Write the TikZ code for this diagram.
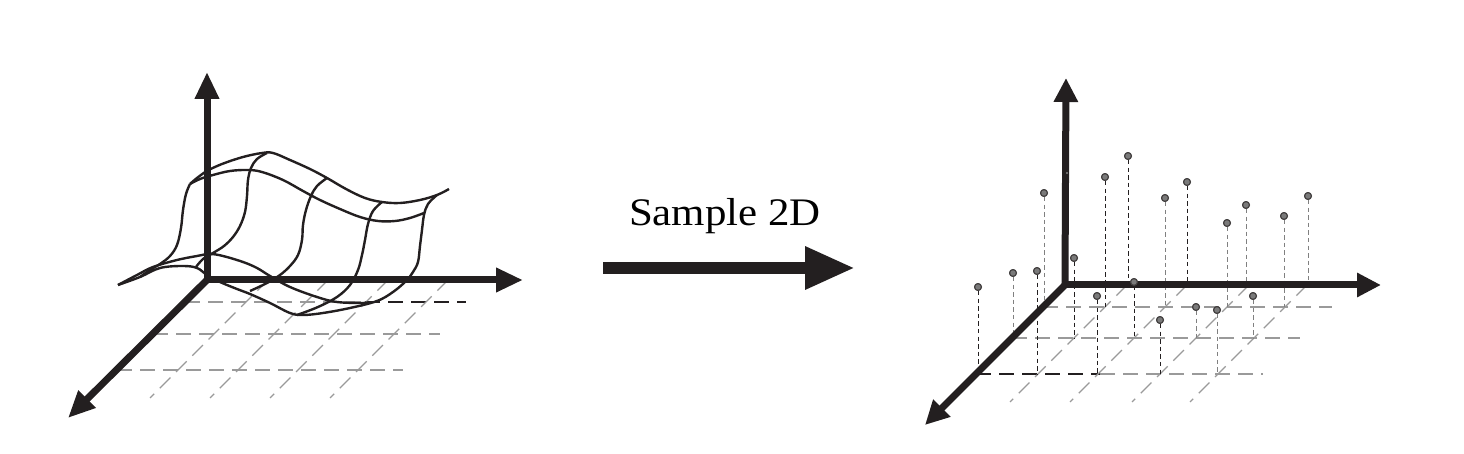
\documentclass[tikz,border=0pt]{standalone}
\usepackage{fontspec}
\setmainfont{Liberation Serif}
\usetikzlibrary{arrows.meta}
\definecolor{ink}{HTML}{231F20}
\definecolor{gridgray}{HTML}{9A9A9A}
\definecolor{dotgray}{HTML}{7A7A7A}
\begin{document}
\begin{tikzpicture}[x=0.5pt,y=-0.5pt,
  axisL/.style={ink, line width=3.5pt, line cap=round, -{Triangle[length=13.5pt,width=11.5pt]}},
  axisR/.style={ink, line width=3.5pt, line cap=round, -{Triangle[length=12pt,width=11.5pt]}},
  gridline/.style={gridgray, line width=0.7pt, dash pattern=on 7.5pt off 4pt},
  darkgrid/.style={gridline, draw=ink},
  surf/.style={ink, line width=1.2pt, line join=round},
  drop/.style={ink, line width=0.5pt, dash pattern=on 2.2pt off 1.6pt},
  dropgray/.style={drop, draw=gray},
  sample/.style={circle, draw=ink!85, fill=dotgray, line width=0.55pt, inner sep=0pt, minimum size=3.4pt},
  bigarrow/.style={ink, line width=6pt, -{Triangle[length=25pt,width=20pt]}}
]
\useasboundingbox (0,0) rectangle (1464,454);

% ---------------- left panel ----------------
\coordinate (LO) at (207,280);
\coordinate (LZ) at (207,72);
\coordinate (LX) at (523,280);
\coordinate (LY) at (68,418);

% ground grid
\draw[gridline] (185,302) -- (365,302);
\draw[darkgrid] (365,302) -- (466,302);
\draw[gridline] (153,334) -- (440,334);
\draw[gridline] (117,370) -- (403,370);
\foreach \u in {61,121,181,241}
  \draw[gridline] ({207+\u},280) -- ({207+\u-118},398);

% surface
\draw[surf] plot[smooth, tension=0.6] coordinates {(190,184) (197,178) (207,171) (222,164) (243,157) (262,153) (273,153) (290,160) (310,169) (327,178) (346,189) (365,198) (382,202) (400,203) (420,200) (437,195) (449,189)};
\draw[surf] plot[smooth, tension=0.6] coordinates {(190,184) (200,179) (213,175) (230,171) (248,170) (262,172) (283,180) (303,191) (320,200) (340,209) (360,217) (378,221) (395,221) (410,218) (424,213)};
\draw[surf] plot[smooth, tension=0.6] coordinates {(190,184) (186,194) (183,210) (181,228) (177,245) (170,256) (160,264) (150,270) (140,277)};
\draw[surf] plot[smooth, tension=0.6] coordinates {(267,153) (257,159) (251,168) (248,180) (247,196) (245,212) (240,226) (233,237) (224,246) (213,253) (203,259) (196,267)};
\draw[surf] plot[smooth, tension=0.6] coordinates {(327,178) (317,186) (311,196) (306,210) (303,225) (302,240) (298,255) (290,266) (280,275) (267,283) (250,291)};
\draw[surf] plot[smooth, tension=0.6] coordinates {(382,202) (373,211) (368,224) (365,240) (362,255) (358,270) (350,285) (337,297) (318,307) (297,315)};
\draw[surf] plot[smooth, tension=0.6] coordinates {(437,195) (428,204) (424,215) (422,230) (420,246) (418,262) (413,272) (406,281) (393,292) (377,301) (350,308) (323,313) (303,315) (290,313) (270,303) (250,294) (237,289) (220,282) (207,275) (197,268) (183,266) (160,268) (140,277) (118,285)};
\draw[surf] plot[smooth, tension=0.6] coordinates {(118,285) (137,275) (153,267) (177,260) (197,256) (210,254) (223,256) (243,262) (257,268) (270,276) (290,287) (317,297) (337,302) (363,303) (368,302)};

% axes
\draw[axisL] (LO) -- (LZ);
\draw[axisL] (LO) -- (LX);
\draw[axisL] (LO) -- (LY);

% ---------------- middle ----------------
\node[anchor=base, inner sep=0pt, font=\fontsize{19.5}{23}\selectfont] (label) at (725,226) {\scalebox{1.1}[1]{Sample 2D}};
\coordinate (MA) at (603,268);
\coordinate (MB) at (855,268);
\draw[bigarrow] (MA) -- (MB);

% ---------------- right panel ----------------
\coordinate (RO) at (1065,285);
\coordinate (RZ) at (1066,78);
\coordinate (RX) at (1381,285);
\coordinate (RY) at (925,425);

\draw[gridline] (1043,307) -- (1332,307);
\draw[gridline] (1012,338) -- (1300,338);
\draw[darkgrid] (976,374) -- (1100,374);
\draw[gridline] (1100,374) -- (1263,374);
\foreach \u in {62,122,184,242}
  \draw[gridline] ({1065+\u},285) -- ({1065+\u-117},402);

% drop lines
\foreach \x/\t/\b/\s [count=\i] in {
  1044/193/307/dropgray, 1013/273/338/dropgray, 978/287/374/drop,
  1128/156/285/drop, 1105/177/307/drop, 1074/258/338/drop, 1037/271/374/drop,
  1187/182/285/drop, 1165/198/307/dropgray, 1134/282/338/drop, 1097/296/374/drop,
  1246/205/285/dropgray, 1227/223/307/dropgray, 1196/307/338/dropgray, 1160/320/374/drop,
  1308/196/285/dropgray, 1284/216/307/dropgray, 1253/296/338/dropgray, 1217/310/374/dropgray}
{
  \coordinate (g\i) at (\x,\b);
  \node[sample] (p\i) at (\x,\t) {};
  \draw[\s] (p\i) -- (g\i);
}

% axes
\draw[axisR] (RO) -- (RZ);
\draw[axisR] (RO) -- (RX);
\draw[axisR] (RO) -- (RY);

% points on top
\foreach \x/\t [count=\i] in {
  1044/193, 1013/273, 978/287,
  1128/156, 1105/177, 1074/258, 1037/271,
  1187/182, 1165/198, 1134/282, 1097/296,
  1246/205, 1227/223, 1196/307, 1160/320,
  1308/196, 1284/216, 1253/296, 1217/310}
{
  \node[sample] (q\i) at (\x,\t) {};
}
\node[circle, fill=gray, inner sep=0pt, minimum size=1.2pt] (p0) at (1067,173) {};
\end{tikzpicture}
\end{document}
